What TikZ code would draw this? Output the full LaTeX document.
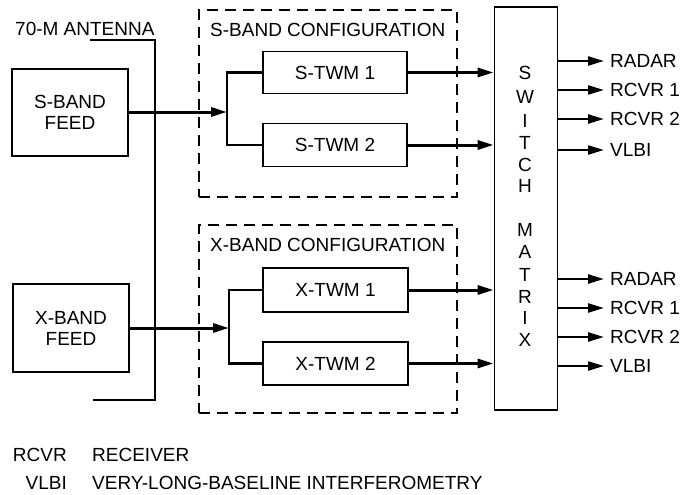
\documentclass[tikz,border=0pt]{standalone}
\usepackage{fontspec}
\setmainfont{Liberation Sans}
\usetikzlibrary{positioning, calc, arrows.meta}
\tikzset{
    blockbox/.style={rectangle, draw, line width=1.8pt, align=center, font=\fontsize{19}{21}\selectfont, inner sep=0pt},
    confbox/.style={rectangle, draw, dash pattern=on 11pt off 7pt, line width=2.4pt, inner sep=0pt},
    label/.style={font=\fontsize{19}{21}\selectfont, inner sep=0pt},
    arrow/.style={-{Triangle[length=16pt,width=9pt]}, line width=3pt},
    outarrow/.style={-{Triangle[length=16pt,width=9pt]}, line width=2.4pt},
    feedline/.style={line width=2.2pt},
}
\begin{document}
\begin{tikzpicture}[x=1pt, y=-1pt]
        \useasboundingbox (0,0) rectangle (685,495);

        % Antenna
        \node[label, anchor=west] (ant) at (15,29) {70-M ANTENNA};
        \coordinate (anta) at (90,40);
        \coordinate (antb) at (93,400);
        \draw[feedline] (anta) -- (155,40) -- (155,400) -- (antb);

        % Feeds
        \node[blockbox, minimum width=116pt, minimum height=87pt] (sfeed) at (70,112.5) {S-BAND\\FEED};
        \node[blockbox, minimum width=116pt, minimum height=88pt] (xfeed) at (71,328) {X-BAND\\FEED};

        % Configuration boxes
        \node[confbox, minimum width=258pt, minimum height=187pt] (sconf) at (328,103.5) {};
        \node[label, anchor=west] at (210,30) {S-BAND CONFIGURATION};
        \node[confbox, minimum width=258pt, minimum height=188pt] (xconf) at (328,319) {};
        \node[label, anchor=west] at (210,245) {X-BAND CONFIGURATION};

        % TWMs
        \node[blockbox, minimum width=144pt, minimum height=42pt] (stwma) at (335,72.5) {S-TWM 1};
        \node[blockbox, minimum width=144pt, minimum height=43pt] (stwmb) at (335,145) {S-TWM 2};
        \node[blockbox, minimum width=145pt, minimum height=44pt] (xtwma) at (335.5,290) {X-TWM 1};
        \node[blockbox, minimum width=145pt, minimum height=43pt] (xtwmb) at (335.5,363.5) {X-TWM 2};

        % Switch matrix
        \node[blockbox, minimum width=63pt, minimum height=403pt] (switch) at (526,208.5) {};
        \foreach \ch/\yy in {S/73, W/97, I/121, T/143, C/165, H/186, M/230, A/252, T/275, R/297, I/318, X/340}
            \node[label] at (525,\yy) {\ch};

        % Feed to TWMs
        \coordinate (sfork) at (227,112);
        \coordinate (xfork) at (229,328);
        \draw[arrow] (sfeed.east |- sfork) -- (sfork);
        \draw[feedline] (stwma.west) -| (sfork) |- (stwmb.west);
        \draw[arrow] (xfeed.east |- xfork) -- (xfork);
        \draw[feedline] (xtwma.west) -| (xfork) |- (xtwmb.west);

        % TWMs to switch
        \draw[arrow] (stwma.east) -- (stwma.east -| switch.west);
        \draw[arrow] (stwmb.east) -- (stwmb.east -| switch.west);
        \draw[arrow] (xtwma.east) -- (xtwma.east -| switch.west);
        \draw[arrow] (xtwmb.east) -- (xtwmb.east -| switch.west);

        % Outputs
        \foreach \nm/\txt/\yy in {sa/RADAR/61, sb/RCVR 1/90, sc/RCVR 2/119, sd/VLBI/150,
                                  xa/RADAR/279, xb/RCVR 1/308, xc/RCVR 2/337, xd/VLBI/366} {
            \node[label, anchor=west] (\nm) at (610,\yy) {\txt};
            \draw[outarrow] (switch.east |- \nm.west) -- ([xshift=-6pt]\nm.west);
        }

        % Legend
        \node[label, anchor=east] (lrcvr) at (67,455) {RCVR};
        \node[label, anchor=west] at (92,455) {RECEIVER};
        \node[label, anchor=east] (lvlbi) at (67,483) {VLBI};
        \node[label, anchor=west] at (92,483) {VERY-LONG-BASELINE INTERFEROMETRY};
\end{tikzpicture}
\end{document}
